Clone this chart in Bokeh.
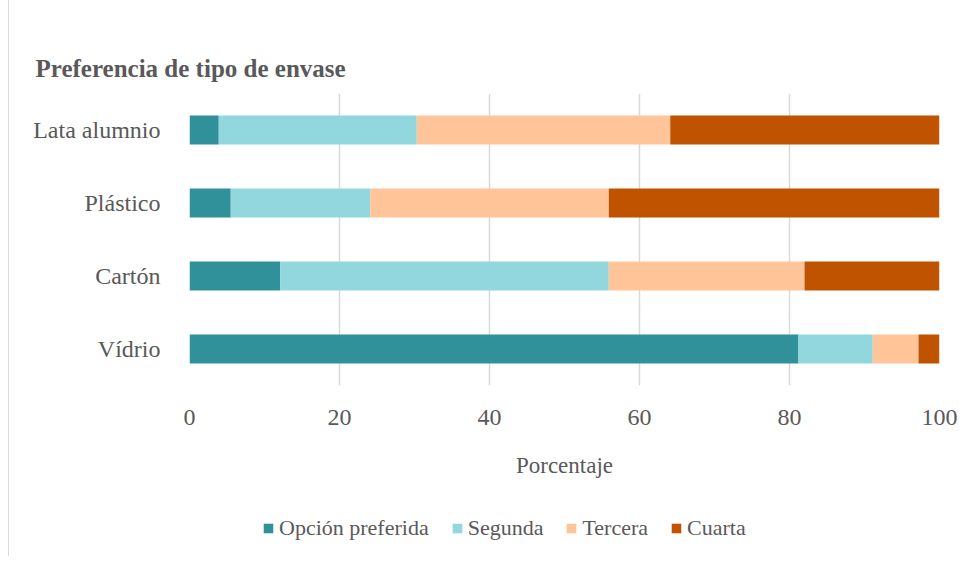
from bokeh.plotting import figure
from bokeh.layouts import column
from bokeh.models import Range1d, FactorRange, Legend, LegendItem, FixedTicker
from bokeh.embed import file_html
from bokeh.resources import INLINE

categories = ["Vídrio", "Cartón", "Plástico", "Lata alumnio"]
series = ["Opción preferida", "Segunda", "Tercera", "Cuarta"]
opcion_preferida = [81.2, 12.1, 5.5, 3.9]
segunda = [9.9, 43.8, 18.6, 26.4]
tercera = [6.1, 26.1, 31.8, 33.8]
cuarta = [2.8, 18.0, 44.1, 35.9]
x_ticks = [0, 20, 40, 60, 80, 100]
colors = ["#31919A", "#92D7DD", "#FFC599", "#C05300"]

FONT = "Liberation Serif"
TXT = "#595959"

data = {"cat": categories, series[0]: opcion_preferida, series[1]: segunda,
        series[2]: tercera, series[3]: cuarta}

p = figure(width=952, height=500, y_range=FactorRange(factors=categories),
           x_range=Range1d(0, 100), output_backend="svg", toolbar_location=None,
           min_border_left=180, min_border_right=22, min_border_top=93,
           min_border_bottom=115)

p.hbar_stack(series, y="cat", height=0.4, color=colors, source=data, line_color=None)

p.title.text = "Preferencia de tipo de envase"
p.title.text_font = FONT
p.title.text_font_size = "25px"
p.title.text_font_style = "bold"
p.title.text_color = TXT
p.title.align = "left"
p.title.offset = -154
p.title.standoff = 23

p.outline_line_color = None
p.ygrid.grid_line_color = None
p.xgrid.grid_line_color = "#D9D9D9"
p.xgrid.grid_line_width = 1.5

p.xaxis.ticker = FixedTicker(ticks=x_ticks)
p.xaxis.axis_line_color = None
p.xaxis.major_tick_line_color = None
p.xaxis.minor_tick_line_color = None
p.xaxis.major_tick_out = 0
p.xaxis.major_label_standoff = 24
p.xaxis.major_label_text_font = FONT
p.xaxis.major_label_text_font_size = "24px"
p.xaxis.major_label_text_color = TXT
p.xaxis.axis_label = "Porcentaje"
p.xaxis.axis_label_text_font = FONT
p.xaxis.axis_label_text_font_size = "23px"
p.xaxis.axis_label_text_font_style = "normal"
p.xaxis.axis_label_text_color = TXT
p.xaxis.axis_label_standoff = 25

p.yaxis.axis_line_color = None
p.yaxis.major_tick_line_color = None
p.yaxis.minor_tick_line_color = None
p.yaxis.major_tick_out = 0
p.yaxis.major_label_standoff = 29
p.yaxis.major_label_text_font = FONT
p.yaxis.major_label_text_font_size = "24px"
p.yaxis.major_label_text_color = TXT

# legend strip (swatch renderers sit outside the visible range)
p2 = figure(width=952, height=56, x_range=Range1d(0, 1), y_range=Range1d(0, 1),
            output_backend="svg", toolbar_location=None, x_axis_type=None,
            y_axis_type=None, min_border=0)
p2.outline_line_color = None
p2.grid.visible = False
items = []
for s, c in zip(series, colors):
    r = p2.hbar(y=[-10], right=[-10], height=0.4, color=c, line_color=None)
    items.append(LegendItem(label=s, renderers=[r]))

legend = Legend(items=items, orientation="horizontal", location=(73, 15))
legend.glyph_width = 12
legend.glyph_height = 12
legend.label_standoff = 5
legend.spacing = 22
legend.padding = 0
legend.margin = 0
legend.border_line_color = None
legend.background_fill_alpha = 0
legend.label_text_font = FONT
legend.label_text_font_size = "22px"
legend.label_text_color = TXT
p2.add_layout(legend, "center")

layout = column(p, p2, spacing=0)
layout.styles = {"border-left": "1px solid #D9D9D9", "margin-left": "8px"}

open("out.html", "w").write(file_html(layout, INLINE))
